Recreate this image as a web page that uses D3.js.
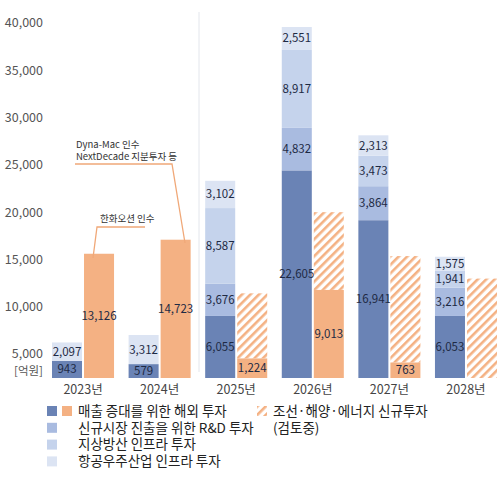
<!DOCTYPE html>
<html><head><meta charset="utf-8">
<script src="https://cdn.jsdelivr.net/npm/d3@7"></script>
<style>body{margin:0;background:#fff}text{font-family:"Noto Sans CJK KR","Noto Sans",sans-serif}</style>
</head><body><svg id="chart"></svg>
<script>
// data
var years = ["2023년", "2024년", "2025년", "2026년", "2027년", "2028년"];
var overseas = [943, 579, 6055, 22605, 16941, 6053];
var rnd = [0, 0, 3676, 4832, 3864, 3216];
var ground = [0, 0, 8587, 8917, 3473, 1941];
var aero = [2097, 3312, 3102, 2551, 2313, 1575];
var orangeVals = [13126, 14723, 1224, 9013, 763, 0];
var reviewVals = [0, 0, 7400, 8840, 12100, 11300];
var tickLabels = [5000, 10000, 15000, 20000, 25000, 30000, 35000, 40000];

var svg = d3.select("#chart").attr("width", 500).attr("height", 486);
var defs = svg.append("defs");
var pat = defs.append("pattern").attr("id", "hatch").attr("patternUnits", "userSpaceOnUse")
  .attr("width", 6).attr("height", 6).attr("patternTransform", "rotate(45)");
pat.append("rect").attr("width", 6).attr("height", 6).attr("fill", "#fff");
pat.append("rect").attr("width", 2.6).attr("height", 6).attr("fill", "#f4b183");

var baseY = 378;
// the source chart's value axis starts a little below zero
var y = d3.scaleLinear().domain([-1000, 38905]).range([baseY, 27]);
var x = d3.scaleBand().domain(years).range([52, 497]).paddingInner(0.19).paddingOuter(0);
var bw = (x.bandwidth() - 2) / 2;

// decorative axis labels (as in the original, not tied to bar scale)
var yTick = d3.scaleLinear().domain([5000, 40000]).range([354, 23]);
svg.selectAll(".tick").data(tickLabels).enter().append("text")
  .attr("x", 43).attr("y", function (d) { return yTick(d); }).attr("dy", "0.35em")
  .attr("text-anchor", "end").attr("font-size", 12.5).attr("fill", "#555")
  .text(function (d) { return d3.format(",")(d); });
svg.append("text").attr("x", 43).attr("y", 371).attr("dy", "0.35em").attr("text-anchor", "end")
  .attr("font-size", 11.5).attr("fill", "#555").text("[억원]");

svg.append("line").attr("x1", 199).attr("x2", 199).attr("y1", 12).attr("y2", 372)
  .attr("stroke", "#e3e6ec").attr("stroke-width", 1);

var series = [
  { vals: overseas, color: "#6a83b5" },
  { vals: rnd, color: "#a9bbe0" },
  { vals: ground, color: "#c5d3ec" },
  { vals: aero, color: "#dce4f3" }
];
var labelColor = "#1e2a44";

years.forEach(function (yr, i) {
  var x0 = x(yr);
  var cum = -1000;
  series.forEach(function (s) {
    var v = s.vals[i];
    if (!v) return;
    var y1 = y(cum + v + (cum < 0 ? 1000 : 0)), y0 = y(cum);
    cum = cum + v + (cum < 0 ? 1000 : 0);
    svg.append("rect").attr("x", x0).attr("y", y1).attr("width", bw).attr("height", y0 - y1).attr("fill", s.color);
    svg.append("text").attr("x", x0 + bw / 2).attr("y", (y0 + y1) / 2).attr("dy", "0.35em")
      .attr("text-anchor", "middle").attr("font-size", 11.5).attr("fill", labelColor)
      .text(d3.format(",")(v));
  });
  var x1 = x0 + bw + 2;
  var o = orangeVals[i];
  var oTop = o ? y(o) : baseY;
  if (reviewVals[i]) {
    var rTop = y((o || -1000) + reviewVals[i]);
    svg.append("rect").attr("x", x1).attr("y", rTop).attr("width", bw)
      .attr("height", oTop - rTop).attr("fill", "url(#hatch)");
  }
  if (o) {
    svg.append("rect").attr("x", x1).attr("y", oTop).attr("width", bw).attr("height", baseY - oTop).attr("fill", "#f4b183");
    svg.append("text").attr("x", x1 + bw / 2).attr("y", (oTop + baseY) / 2).attr("dy", "0.35em")
      .attr("text-anchor", "middle").attr("font-size", 11.5).attr("fill", labelColor)
      .text(d3.format(",")(o));
  }
  svg.append("text").attr("x", x0 + bw + 1).attr("y", 390).attr("dy", "0.35em")
    .attr("text-anchor", "middle").attr("font-size", 12.5).attr("fill", "#444").text(yr);
});

// annotations
var ann = svg.append("g").attr("stroke", "#f0a878").attr("stroke-width", 1.3).attr("fill", "none");
ann.append("polyline").attr("points", "93,258 97,227 145,227");
ann.append("polyline").attr("points", "75,164 172,164 185,243");
svg.append("text").attr("x", 100).attr("y", 222).attr("font-size", 9.5).attr("fill", "#333").text("한화오션 인수");
svg.append("text").attr("x", 76).attr("y", 148).attr("font-size", 9.5).attr("fill", "#333").text("Dyna-Mac 인수");
svg.append("text").attr("x", 76).attr("y", 160).attr("font-size", 9.5).attr("fill", "#333").text("NextDecade 지분투자 등");

// legend
var legRows = ["매출 증대를 위한 해외 투자", "신규시장 진출을 위한 R&D 투자", "지상방산 인프라 투자", "항공우주산업 인프라 투자"];
legRows.forEach(function (t, i) {
  var ly = 411 + i * 16.8;
  svg.append("rect").attr("x", 47).attr("y", ly - 5).attr("width", 10).attr("height", 10).attr("fill", series[i].color);
  svg.append("text").attr("x", 78).attr("y", ly).attr("dy", "0.35em").attr("font-size", 13.5).attr("fill", "#222").text(t);
});
svg.append("rect").attr("x", 62).attr("y", 406).attr("width", 10).attr("height", 10).attr("fill", "#f4b183");
svg.append("rect").attr("x", 257).attr("y", 406).attr("width", 10).attr("height", 10).attr("fill", "url(#hatch)");
svg.append("text").attr("x", 273).attr("y", 411).attr("dy", "0.35em").attr("font-size", 13.5).attr("fill", "#222").text("조선·해양·에너지 신규투자");
svg.append("text").attr("x", 273).attr("y", 428).attr("dy", "0.35em").attr("font-size", 13.5).attr("fill", "#222").text("(검토중)");
</script></body></html>
